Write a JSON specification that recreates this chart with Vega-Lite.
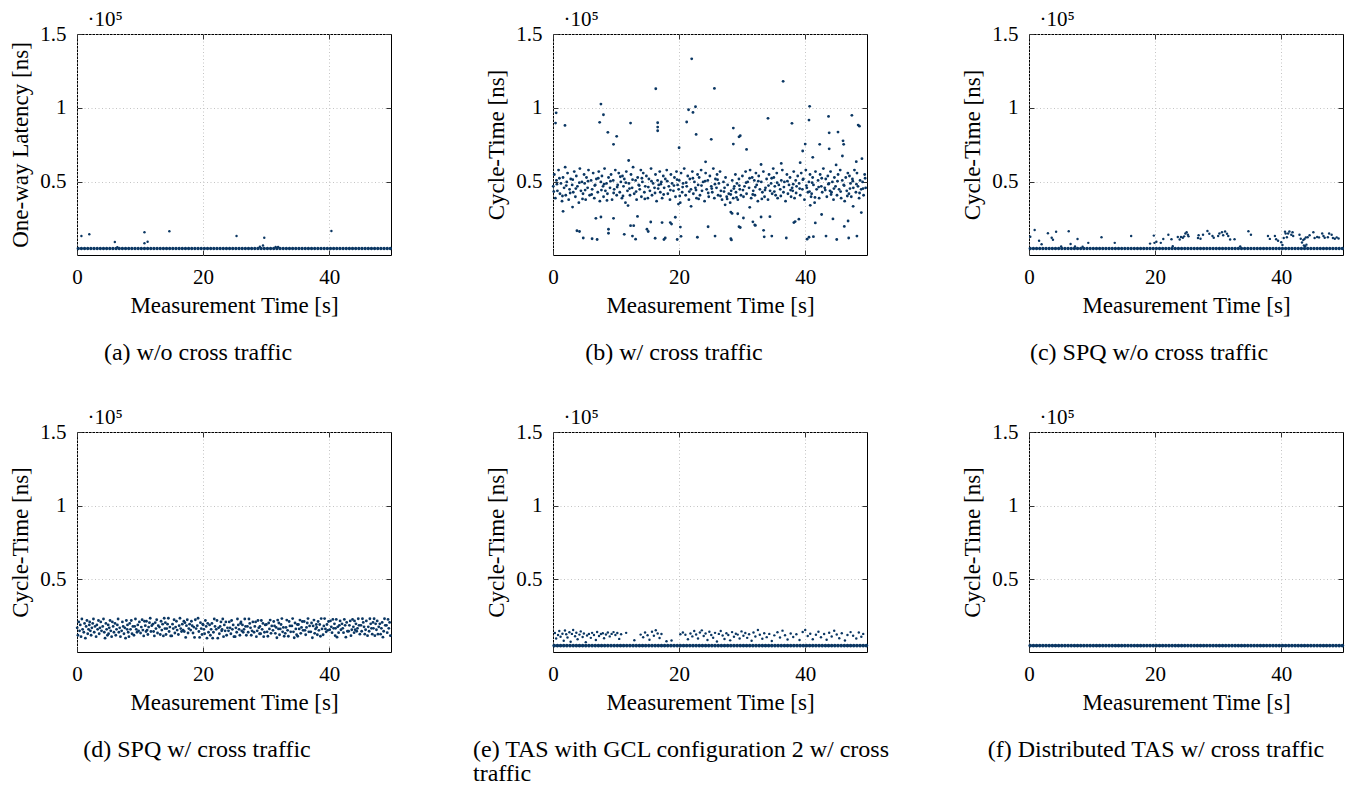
{
"$schema":"https://vega.github.io/schema/vega-lite/v6.json",
"padding":{"left":9,"top":7,"right":0,"bottom":0},
"config":{
"font":"Liberation Serif",
"view":{"stroke":"#000","strokeWidth":1},
"point":{"filled":true,"color":"#0b3763","opacity":1},
"text":{"font":"Liberation Serif","fontSize":21,"color":"#000"},
"axis":{"domain":false,"ticks":true,"tickSize":-5,"tickColor":"#333","tickWidth":1,"labelFont":"Liberation Serif","labelFontSize":21,"labelColor":"#000","labelPadding":16,"labelFlush":false,"labelOverlap":false,"titleFont":"Liberation Serif","titleFontSize":23,"titleFontWeight":"normal","titleColor":"#000","gridColor":"#c4c4c4","gridDash":[1,2.5],"gridWidth":1},
"axisX":{"titlePadding":7},
"axisY":{"titlePadding":7},
"axisTop":{"labels":false,"titleAnchor":"start","titleAlign":"left","titleBaseline":"alphabetic","titleX":10,"titleY":-9,"titleFontSize":21,"titlePadding":0},
"axisRight":{"labels":false},
"title":{"orient":"bottom","anchor":"middle","frame":"group","font":"Liberation Serif","fontSize":24,"fontWeight":"normal","color":"#000","offset":24,"lineHeight":24}
},
"datasets":{
"base":[{"t":0.2,"v":5000},{"t":0.7,"v":5000},{"t":1.2,"v":5000},{"t":1.7,"v":5000},{"t":2.2,"v":5000},{"t":2.7,"v":5000},{"t":3.2,"v":5000},{"t":3.7,"v":5000},{"t":4.2,"v":5000},{"t":4.7,"v":5000},{"t":5.2,"v":5000},{"t":5.7,"v":5000},{"t":6.2,"v":5000},{"t":6.7,"v":5000},{"t":7.2,"v":5000},{"t":7.7,"v":5000},{"t":8.2,"v":5000},{"t":8.7,"v":5000},{"t":9.2,"v":5000},{"t":9.7,"v":5000},{"t":10.2,"v":5000},{"t":10.7,"v":5000},{"t":11.2,"v":5000},{"t":11.7,"v":5000},{"t":12.2,"v":5000},{"t":12.7,"v":5000},{"t":13.2,"v":5000},{"t":13.7,"v":5000},{"t":14.2,"v":5000},{"t":14.7,"v":5000},{"t":15.2,"v":5000},{"t":15.7,"v":5000},{"t":16.2,"v":5000},{"t":16.7,"v":5000},{"t":17.2,"v":5000},{"t":17.7,"v":5000},{"t":18.2,"v":5000},{"t":18.7,"v":5000},{"t":19.2,"v":5000},{"t":19.7,"v":5000},{"t":20.2,"v":5000},{"t":20.7,"v":5000},{"t":21.2,"v":5000},{"t":21.7,"v":5000},{"t":22.2,"v":5000},{"t":22.7,"v":5000},{"t":23.2,"v":5000},{"t":23.7,"v":5000},{"t":24.2,"v":5000},{"t":24.7,"v":5000},{"t":25.2,"v":5000},{"t":25.7,"v":5000},{"t":26.2,"v":5000},{"t":26.7,"v":5000},{"t":27.2,"v":5000},{"t":27.7,"v":5000},{"t":28.2,"v":5000},{"t":28.7,"v":5000},{"t":29.2,"v":5000},{"t":29.7,"v":5000},{"t":30.2,"v":5000},{"t":30.7,"v":5000},{"t":31.2,"v":5000},{"t":31.7,"v":5000},{"t":32.2,"v":5000},{"t":32.7,"v":5000},{"t":33.2,"v":5000},{"t":33.7,"v":5000},{"t":34.2,"v":5000},{"t":34.7,"v":5000},{"t":35.2,"v":5000},{"t":35.7,"v":5000},{"t":36.2,"v":5000},{"t":36.7,"v":5000},{"t":37.2,"v":5000},{"t":37.7,"v":5000},{"t":38.2,"v":5000},{"t":38.7,"v":5000},{"t":39.2,"v":5000},{"t":39.7,"v":5000},{"t":40.2,"v":5000},{"t":40.7,"v":5000},{"t":41.2,"v":5000},{"t":41.7,"v":5000},{"t":42.2,"v":5000},{"t":42.7,"v":5000},{"t":43.2,"v":5000},{"t":43.7,"v":5000},{"t":44.2,"v":5000},{"t":44.7,"v":5000},{"t":45.2,"v":5000},{"t":45.7,"v":5000},{"t":46.2,"v":5000},{"t":46.7,"v":5000},{"t":47.2,"v":5000},{"t":47.7,"v":5000},{"t":48.2,"v":5000},{"t":48.7,"v":5000},{"t":49.2,"v":5000},{"t":49.7,"v":5000}],
"a":[{"t":0.7,"v":13400},{"t":1.95,"v":14600},{"t":6.0,"v":9400},{"t":6.4,"v":5800},{"t":10.7,"v":16000},{"t":10.7,"v":8500},{"t":11.2,"v":9600},{"t":14.65,"v":16600},{"t":25.3,"v":13400},{"t":29.0,"v":6200},{"t":29.5,"v":7000},{"t":29.7,"v":12300},{"t":31.5,"v":6000},{"t":31.9,"v":6000},{"t":40.35,"v":16800}],
"b":[{"t":0.04,"v":47000},{"t":0.21,"v":55000},{"t":0.37,"v":39000},{"t":0.55,"v":51000},{"t":0.70,"v":44000},{"t":0.88,"v":58000},{"t":1.10,"v":42000},{"t":1.26,"v":49000},{"t":1.43,"v":37000},{"t":1.59,"v":53000},{"t":1.76,"v":46000},{"t":1.93,"v":60000},{"t":2.02,"v":41000},{"t":2.18,"v":50000},{"t":2.31,"v":56000},{"t":2.49,"v":38000},{"t":2.63,"v":45000},{"t":2.81,"v":52000},{"t":3.04,"v":48000},{"t":3.21,"v":43000},{"t":3.37,"v":57000},{"t":3.55,"v":40000},{"t":3.70,"v":54000},{"t":3.88,"v":47000},{"t":4.10,"v":36000},{"t":4.26,"v":59000},{"t":4.43,"v":44000},{"t":4.59,"v":50000},{"t":4.76,"v":42000},{"t":4.93,"v":55000},{"t":5.02,"v":49000},{"t":5.18,"v":38000},{"t":5.31,"v":53000},{"t":5.49,"v":46000},{"t":5.63,"v":58000},{"t":5.81,"v":41000},{"t":6.04,"v":51000},{"t":6.21,"v":45000},{"t":6.37,"v":56000},{"t":6.55,"v":39000},{"t":6.70,"v":48000},{"t":6.88,"v":52000},{"t":7.10,"v":43000},{"t":7.26,"v":57000},{"t":7.43,"v":37000},{"t":7.59,"v":50000},{"t":7.76,"v":54000},{"t":7.93,"v":47000},{"t":8.02,"v":40000},{"t":8.18,"v":59000},{"t":8.31,"v":44000},{"t":8.49,"v":49000},{"t":8.63,"v":42000},{"t":8.81,"v":53000},{"t":9.04,"v":46000},{"t":9.21,"v":55000},{"t":9.37,"v":38000},{"t":9.55,"v":51000},{"t":9.70,"v":45000},{"t":9.88,"v":58000},{"t":10.10,"v":41000},{"t":10.26,"v":48000},{"t":10.43,"v":56000},{"t":10.59,"v":43000},{"t":10.76,"v":50000},{"t":10.93,"v":39000},{"t":11.02,"v":54000},{"t":11.18,"v":47000},{"t":11.31,"v":52000},{"t":11.49,"v":36000},{"t":11.63,"v":57000},{"t":11.81,"v":44000},{"t":12.04,"v":49000},{"t":12.21,"v":41000},{"t":12.37,"v":55000},{"t":12.55,"v":46000},{"t":12.70,"v":60000},{"t":12.88,"v":42000},{"t":13.10,"v":51000},{"t":13.26,"v":38000},{"t":13.43,"v":53000},{"t":13.59,"v":48000},{"t":13.76,"v":45000},{"t":13.93,"v":58000},{"t":14.02,"v":40000},{"t":14.18,"v":50000},{"t":14.31,"v":56000},{"t":14.49,"v":43000},{"t":14.63,"v":47000},{"t":14.81,"v":54000},{"t":15.04,"v":39000},{"t":15.21,"v":52000},{"t":15.37,"v":44000},{"t":15.55,"v":59000},{"t":15.70,"v":41000},{"t":15.88,"v":49000},{"t":16.10,"v":46000},{"t":16.26,"v":55000},{"t":16.43,"v":37000},{"t":16.59,"v":51000},{"t":16.76,"v":48000},{"t":16.93,"v":57000},{"t":17.02,"v":43000},{"t":17.18,"v":50000},{"t":17.31,"v":39000},{"t":17.49,"v":54000},{"t":17.63,"v":46000},{"t":17.81,"v":52000},{"t":18.04,"v":58000},{"t":18.21,"v":42000},{"t":18.37,"v":47000},{"t":18.55,"v":38000},{"t":18.70,"v":55000},{"t":18.88,"v":49000},{"t":19.10,"v":44000},{"t":19.26,"v":53000},{"t":19.43,"v":40000},{"t":19.59,"v":57000},{"t":19.76,"v":48000},{"t":19.93,"v":45000},{"t":20.02,"v":51000},{"t":20.18,"v":36000},{"t":20.31,"v":56000},{"t":20.49,"v":43000},{"t":20.63,"v":49000},{"t":20.81,"v":59000},{"t":21.04,"v":41000},{"t":21.21,"v":47000},{"t":21.37,"v":54000},{"t":21.55,"v":38000},{"t":21.70,"v":52000},{"t":21.88,"v":45000},{"t":22.10,"v":57000},{"t":22.26,"v":42000},{"t":22.43,"v":50000},{"t":22.59,"v":46000},{"t":22.76,"v":39000},{"t":22.93,"v":55000},{"t":23.02,"v":48000},{"t":23.18,"v":53000},{"t":23.31,"v":41000},{"t":23.49,"v":58000},{"t":23.63,"v":44000},{"t":23.81,"v":50000},{"t":24.04,"v":37000},{"t":24.21,"v":56000},{"t":24.37,"v":45000},{"t":24.55,"v":51000},{"t":24.70,"v":40000},{"t":24.88,"v":54000},{"t":25.10,"v":47000},{"t":25.26,"v":43000},{"t":25.43,"v":59000},{"t":25.59,"v":39000},{"t":25.76,"v":52000},{"t":25.93,"v":46000},{"t":26.02,"v":55000},{"t":26.18,"v":41000},{"t":26.31,"v":49000},{"t":26.49,"v":57000},{"t":26.63,"v":44000},{"t":26.81,"v":38000},{"t":27.04,"v":50000},{"t":27.21,"v":46000},{"t":27.37,"v":53000},{"t":27.55,"v":40000},{"t":27.70,"v":48000},{"t":27.88,"v":42000},{"t":28.10,"v":36000},{"t":28.26,"v":44000},{"t":28.43,"v":51000},{"t":28.59,"v":39000},{"t":28.76,"v":47000},{"t":28.93,"v":55000},{"t":29.02,"v":43000},{"t":29.18,"v":49000},{"t":29.31,"v":38000},{"t":29.49,"v":52000},{"t":29.63,"v":45000},{"t":29.81,"v":41000},{"t":30.04,"v":54000},{"t":30.21,"v":40000},{"t":30.37,"v":47000},{"t":30.55,"v":57000},{"t":30.70,"v":42000},{"t":30.88,"v":50000},{"t":31.10,"v":46000},{"t":31.26,"v":58000},{"t":31.43,"v":39000},{"t":31.59,"v":53000},{"t":31.76,"v":44000},{"t":31.93,"v":51000},{"t":32.02,"v":41000},{"t":32.18,"v":56000},{"t":32.31,"v":48000},{"t":32.49,"v":37000},{"t":32.63,"v":54000},{"t":32.81,"v":45000},{"t":33.04,"v":50000},{"t":33.21,"v":43000},{"t":33.37,"v":57000},{"t":33.55,"v":40000},{"t":33.70,"v":46000},{"t":33.88,"v":52000},{"t":34.10,"v":38000},{"t":34.26,"v":55000},{"t":34.43,"v":44000},{"t":34.59,"v":49000},{"t":34.76,"v":42000},{"t":34.93,"v":59000},{"t":35.02,"v":53000},{"t":35.18,"v":47000},{"t":35.31,"v":41000},{"t":35.49,"v":56000},{"t":35.63,"v":39000},{"t":35.81,"v":48000},{"t":36.04,"v":45000},{"t":36.21,"v":51000},{"t":36.37,"v":58000},{"t":36.55,"v":43000},{"t":36.70,"v":50000},{"t":36.88,"v":37000},{"t":37.10,"v":55000},{"t":37.26,"v":42000},{"t":37.43,"v":48000},{"t":37.59,"v":53000},{"t":37.76,"v":40000},{"t":37.93,"v":46000},{"t":38.02,"v":44000},{"t":38.18,"v":57000},{"t":38.31,"v":39000},{"t":38.49,"v":51000},{"t":38.63,"v":47000},{"t":38.81,"v":54000},{"t":39.04,"v":49000},{"t":39.21,"v":41000},{"t":39.37,"v":56000},{"t":39.55,"v":45000},{"t":39.70,"v":52000},{"t":39.88,"v":38000},{"t":40.10,"v":58000},{"t":40.26,"v":46000},{"t":40.43,"v":43000},{"t":40.59,"v":50000},{"t":40.76,"v":55000},{"t":40.93,"v":40000},{"t":41.02,"v":42000},{"t":41.18,"v":53000},{"t":41.31,"v":48000},{"t":41.49,"v":36000},{"t":41.63,"v":57000},{"t":41.81,"v":45000},{"t":42.04,"v":51000},{"t":42.21,"v":39000},{"t":42.37,"v":55000},{"t":42.55,"v":47000},{"t":42.70,"v":43000},{"t":42.88,"v":59000},{"t":43.10,"v":46000},{"t":43.26,"v":52000},{"t":43.43,"v":40000},{"t":43.59,"v":54000},{"t":43.76,"v":49000},{"t":43.93,"v":44000},{"t":44.02,"v":57000},{"t":44.18,"v":43000},{"t":44.31,"v":50000},{"t":44.49,"v":38000},{"t":44.63,"v":53000},{"t":44.81,"v":47000},{"t":45.04,"v":41000},{"t":45.21,"v":55000},{"t":45.37,"v":45000},{"t":45.55,"v":58000},{"t":45.70,"v":39000},{"t":45.88,"v":51000},{"t":46.10,"v":48000},{"t":46.26,"v":37000},{"t":46.43,"v":53000},{"t":46.59,"v":44000},{"t":46.76,"v":56000},{"t":46.93,"v":42000},{"t":47.02,"v":54000},{"t":47.18,"v":49000},{"t":47.31,"v":40000},{"t":47.49,"v":52000},{"t":47.63,"v":46000},{"t":47.81,"v":58000},{"t":48.04,"v":43000},{"t":48.21,"v":56000},{"t":48.37,"v":47000},{"t":48.55,"v":39000},{"t":48.70,"v":51000},{"t":48.88,"v":45000},{"t":49.10,"v":50000},{"t":49.26,"v":41000},{"t":49.43,"v":55000},{"t":49.59,"v":46000},
{"t":0.5,"v":96700},{"t":0.4,"v":89800},{"t":1.9,"v":88200},{"t":7.6,"v":102600},{"t":7.4,"v":90300},{"t":8.0,"v":95400},{"t":8.7,"v":83500},{"t":10.1,"v":80800},{"t":9.6,"v":75400},{"t":12.3,"v":89800},{"t":16.3,"v":113000},{"t":16.6,"v":90000},{"t":16.6,"v":87100},{"t":16.6,"v":84600},{"t":20.0,"v":73100},{"t":21.2,"v":90500},{"t":21.5,"v":98800},{"t":22.0,"v":133200},{"t":22.2,"v":97000},{"t":22.6,"v":100800},{"t":22.7,"v":82100},{"t":24.2,"v":63600},{"t":25.1,"v":78800},{"t":25.6,"v":113200},{"t":28.6,"v":86400},{"t":28.6,"v":75600},{"t":29.5,"v":80500},{"t":29.7,"v":81200},{"t":30.7,"v":72000},{"t":34.1,"v":93000},{"t":36.5,"v":118000},{"t":37.9,"v":89600},{"t":39.6,"v":70900},{"t":40.0,"v":75600},{"t":40.6,"v":91800},{"t":40.7,"v":101100},{"t":41.2,"v":66600},{"t":42.3,"v":75400},{"t":43.7,"v":94300},{"t":43.8,"v":83200},{"t":43.8,"v":72400},{"t":45.2,"v":83700},{"t":46.0,"v":77800},{"t":46.1,"v":75400},{"t":45.9,"v":67500},{"t":47.4,"v":95000},{"t":48.4,"v":88400},{"t":48.6,"v":87700},{"t":49.0,"v":65700},{"t":48.1,"v":63700},{"t":36.2,"v":62500},{"t":12.0,"v":64500},{"t":39.2,"v":63000},{"t":44.9,"v":61500},{"t":33.0,"v":61800},
{"t":1.6,"v":30100},{"t":3.8,"v":17000},{"t":4.2,"v":16500},{"t":4.8,"v":12100},{"t":6.2,"v":11600},{"t":7.0,"v":11100},{"t":6.8,"v":25400},{"t":7.6,"v":26300},{"t":8.8,"v":18000},{"t":8.8,"v":15300},{"t":9.6,"v":25400},{"t":11.3,"v":14600},{"t":12.3,"v":20400},{"t":12.8,"v":20400},{"t":12.6,"v":13400},{"t":13.1,"v":11300},{"t":13.4,"v":26700},{"t":14.9,"v":18000},{"t":15.1,"v":16500},{"t":15.5,"v":22900},{"t":16.2,"v":11900},{"t":17.3,"v":22500},{"t":17.6,"v":11100},{"t":17.8,"v":12100},{"t":18.6,"v":22500},{"t":18.8,"v":21500},{"t":19.4,"v":26100},{"t":19.7,"v":11100},{"t":20.2,"v":19500},{"t":20.3,"v":13200},{"t":22.9,"v":12600},{"t":24.6,"v":19700},{"t":25.7,"v":13400},{"t":28.2,"v":29600},{"t":28.4,"v":28700},{"t":28.2,"v":11600},{"t":28.3,"v":10800},{"t":29.3,"v":28500},{"t":29.5,"v":19700},{"t":29.7,"v":19200},{"t":30.2,"v":25600},{"t":31.7,"v":23000},{"t":32.0,"v":20900},{"t":32.1,"v":20600},{"t":33.0,"v":26300},{"t":33.4,"v":17300},{"t":33.5,"v":12900},{"t":34.4,"v":26500},{"t":34.7,"v":13400},{"t":37.0,"v":12100},{"t":38.2,"v":22500},{"t":38.4,"v":23200},{"t":39.0,"v":24800},{"t":40.3,"v":11300},{"t":40.6,"v":12600},{"t":41.3,"v":13000},{"t":41.6,"v":22300},{"t":42.6,"v":28000},{"t":43.3,"v":13400},{"t":44.4,"v":25000},{"t":45.0,"v":11100},{"t":46.2,"v":19900},{"t":46.8,"v":23600},{"t":46.9,"v":12100},{"t":48.2,"v":13400},{"t":48.9,"v":29300},{"t":3.1,"v":33000},{"t":11.9,"v":34000},{"t":21.9,"v":33500},{"t":27.3,"v":34500},{"t":31.2,"v":32800},{"t":40.8,"v":34200},{"t":47.6,"v":33500},{"t":19.9,"v":35000},
{"t":0.13,"v":43500},{"t":0.62,"v":48500},{"t":1.02,"v":52500},{"t":1.50,"v":40500},{"t":2.10,"v":47500},{"t":2.72,"v":42500},{"t":3.13,"v":51500},{"t":3.62,"v":45500},{"t":4.18,"v":49500},{"t":4.68,"v":38500},{"t":5.10,"v":44500},{"t":5.55,"v":50500},{"t":6.13,"v":41500},{"t":6.62,"v":47500},{"t":7.18,"v":52500},{"t":7.68,"v":44500},{"t":8.10,"v":48500},{"t":8.56,"v":37500},{"t":9.12,"v":50500},{"t":9.62,"v":42500},{"t":10.18,"v":46500},{"t":10.68,"v":53500},{"t":11.10,"v":40500},{"t":11.55,"v":49500},{"t":12.13,"v":45500},{"t":12.62,"v":51500},{"t":13.18,"v":43500},{"t":13.68,"v":47500},{"t":14.10,"v":52500},{"t":14.56,"v":38500},{"t":15.12,"v":46500},{"t":15.62,"v":50500},{"t":16.18,"v":42500},{"t":16.68,"v":45500},{"t":17.10,"v":48500},{"t":17.55,"v":41500},{"t":18.13,"v":50500},{"t":18.62,"v":44500},{"t":19.18,"v":47500},{"t":19.68,"v":51500},{"t":20.10,"v":40500},{"t":20.56,"v":46500},{"t":21.12,"v":49500},{"t":21.62,"v":43500},{"t":22.18,"v":52500},{"t":22.68,"v":44500},{"t":23.10,"v":38500},{"t":23.55,"v":47500},{"t":24.13,"v":50500},{"t":24.62,"v":42500},{"t":25.18,"v":45500},{"t":25.68,"v":48500},{"t":26.10,"v":51500},{"t":26.56,"v":40500},{"t":27.12,"v":43500},{"t":27.62,"v":38500},{"t":28.18,"v":41500},{"t":28.68,"v":45500},{"t":29.10,"v":39500},{"t":29.55,"v":47500},{"t":30.13,"v":44500},{"t":30.62,"v":49500},{"t":31.18,"v":52500},{"t":31.68,"v":41500},{"t":32.10,"v":46500},{"t":32.56,"v":50500},{"t":33.12,"v":38500},{"t":33.62,"v":44500},{"t":34.18,"v":47500},{"t":34.68,"v":52500},{"t":35.10,"v":43500},{"t":35.55,"v":49500},{"t":36.13,"v":40500},{"t":36.62,"v":46500},{"t":37.18,"v":50500},{"t":37.68,"v":44500},{"t":38.10,"v":48500},{"t":38.56,"v":42500},{"t":39.12,"v":45500},{"t":39.62,"v":51500},{"t":40.18,"v":47500},{"t":40.68,"v":43500},{"t":41.10,"v":49500},{"t":41.55,"v":39500},{"t":42.13,"v":46500},{"t":42.62,"v":52500},{"t":43.18,"v":44500},{"t":43.68,"v":48500},{"t":44.10,"v":41500},{"t":44.56,"v":45500},{"t":45.12,"v":50500},{"t":45.62,"v":43500},{"t":46.18,"v":47500},{"t":46.68,"v":40500},{"t":47.10,"v":45500},{"t":47.55,"v":50500},{"t":48.13,"v":48500},{"t":48.62,"v":42500},{"t":49.18,"v":45500},{"t":49.50,"v":52500}],
"c":[{"t":0.2,"v":13000},{"t":0.9,"v":17500},{"t":1.6,"v":10300},{"t":2.0,"v":7800},{"t":3.0,"v":15300},{"t":3.6,"v":12300},{"t":3.8,"v":10900},{"t":4.3,"v":16300},{"t":6.3,"v":16600},{"t":6.6,"v":8100},{"t":7.7,"v":11400},{"t":9.4,"v":8800},{"t":11.5,"v":12600},{"t":13.6,"v":8800},{"t":16.2,"v":13400},{"t":19.2,"v":8300},{"t":19.8,"v":13700},{"t":19.9,"v":8800},{"t":20.2,"v":9500},{"t":20.9,"v":8800},{"t":21.3,"v":11400},{"t":22.1,"v":14300},{"t":22.6,"v":11200},{"t":23.6,"v":12800},{"t":23.9,"v":11100},{"t":24.1,"v":12800},{"t":24.4,"v":12300},{"t":24.6,"v":13200},{"t":24.8,"v":15100},{"t":25.0,"v":16000},{"t":25.2,"v":14300},{"t":25.3,"v":13200},{"t":26.8,"v":12100},{"t":26.9,"v":13900},{"t":27.2,"v":11600},{"t":27.6,"v":14300},{"t":28.3,"v":16800},{"t":28.6,"v":15000},{"t":29.1,"v":13500},{"t":29.3,"v":12300},{"t":30.0,"v":13400},{"t":30.2,"v":15100},{"t":30.6,"v":16000},{"t":30.8,"v":13900},{"t":31.1,"v":16500},{"t":31.4,"v":15000},{"t":31.6,"v":13400},{"t":31.9,"v":11100},{"t":32.6,"v":11300},{"t":34.8,"v":16700},{"t":35.2,"v":14300},{"t":37.9,"v":13400},{"t":38.2,"v":11500},{"t":39.0,"v":13400},{"t":39.2,"v":11300},{"t":39.5,"v":10200},{"t":40.0,"v":9200},{"t":40.2,"v":7400},{"t":40.4,"v":12100},{"t":40.6,"v":16400},{"t":40.7,"v":15100},{"t":40.9,"v":12600},{"t":41.1,"v":15100},{"t":41.3,"v":16500},{"t":41.6,"v":14300},{"t":41.8,"v":16000},{"t":41.9,"v":13400},{"t":42.9,"v":14300},{"t":43.1,"v":11600},{"t":43.3,"v":9100},{"t":43.5,"v":10800},{"t":43.7,"v":11400},{"t":43.9,"v":12500},{"t":44.2,"v":12600},{"t":44.5,"v":13900},{"t":43.6,"v":7000},{"t":43.8,"v":6500},{"t":44.0,"v":7600},{"t":45.1,"v":16000},{"t":45.3,"v":12100},{"t":45.7,"v":12800},{"t":46.0,"v":12500},{"t":46.5,"v":15100},{"t":46.7,"v":13400},{"t":46.9,"v":12300},{"t":47.4,"v":12600},{"t":47.6,"v":15100},{"t":48.0,"v":14300},{"t":48.2,"v":12100},{"t":48.5,"v":11600},{"t":48.8,"v":12500},{"t":49.1,"v":11800},{"t":7.3,"v":6400},{"t":8.5,"v":6200},{"t":5.1,"v":6300},{"t":22.8,"v":6500},{"t":33.5,"v":6300}],
"d":[{"t":0.03,"v":17000},{"t":0.15,"v":12000},{"t":0.27,"v":21000},{"t":0.40,"v":15000},{"t":0.52,"v":19000},{"t":0.64,"v":11000},{"t":0.77,"v":23000},{"t":0.89,"v":16000},{"t":1.08,"v":14000},{"t":1.20,"v":20000},{"t":1.33,"v":10000},{"t":1.45,"v":18000},{"t":1.58,"v":22000},{"t":1.70,"v":13000},{"t":1.83,"v":16000},{"t":1.95,"v":19000},{"t":2.01,"v":21000},{"t":2.12,"v":15000},{"t":2.24,"v":12000},{"t":2.36,"v":17000},{"t":2.49,"v":20000},{"t":2.61,"v":23000},{"t":2.73,"v":14000},{"t":2.86,"v":18000},{"t":3.03,"v":11000},{"t":3.15,"v":19000},{"t":3.27,"v":16000},{"t":3.40,"v":22000},{"t":3.52,"v":13000},{"t":3.64,"v":17000},{"t":3.77,"v":21000},{"t":3.89,"v":15000},{"t":4.08,"v":18000},{"t":4.20,"v":23000},{"t":4.33,"v":14000},{"t":4.45,"v":10000},{"t":4.58,"v":20000},{"t":4.70,"v":16000},{"t":4.83,"v":12000},{"t":4.95,"v":19000},{"t":5.01,"v":13000},{"t":5.12,"v":17000},{"t":5.24,"v":22000},{"t":5.36,"v":15000},{"t":5.49,"v":11000},{"t":5.61,"v":21000},{"t":5.73,"v":18000},{"t":5.86,"v":14000},{"t":6.03,"v":20000},{"t":6.15,"v":12000},{"t":6.27,"v":16000},{"t":6.40,"v":19000},{"t":6.52,"v":23000},{"t":6.64,"v":14000},{"t":6.77,"v":17000},{"t":6.89,"v":11000},{"t":7.08,"v":15000},{"t":7.20,"v":21000},{"t":7.33,"v":18000},{"t":7.45,"v":13000},{"t":7.58,"v":17000},{"t":7.70,"v":10000},{"t":7.83,"v":22000},{"t":7.95,"v":16000},{"t":8.01,"v":19000},{"t":8.12,"v":14000},{"t":8.24,"v":11000},{"t":8.36,"v":20000},{"t":8.49,"v":16000},{"t":8.61,"v":22000},{"t":8.73,"v":13000},{"t":8.86,"v":18000},{"t":9.03,"v":12000},{"t":9.15,"v":18000},{"t":9.27,"v":23000},{"t":9.40,"v":16000},{"t":9.52,"v":14000},{"t":9.64,"v":19000},{"t":9.77,"v":15000},{"t":9.89,"v":21000},
{"t":10.08,"v":13500},{"t":10.20,"v":17500},{"t":10.33,"v":22500},{"t":10.45,"v":15500},{"t":10.58,"v":11500},{"t":10.70,"v":21500},{"t":10.83,"v":18500},{"t":10.95,"v":14500},{"t":11.01,"v":21500},{"t":11.12,"v":15500},{"t":11.24,"v":12500},{"t":11.36,"v":17500},{"t":11.49,"v":20500},{"t":11.61,"v":23500},{"t":11.73,"v":14500},{"t":11.86,"v":18500},{"t":12.03,"v":19500},{"t":12.15,"v":14500},{"t":12.27,"v":11500},{"t":12.40,"v":20500},{"t":12.52,"v":16500},{"t":12.64,"v":22500},{"t":12.77,"v":13500},{"t":12.89,"v":18500},{"t":13.08,"v":17500},{"t":13.20,"v":12500},{"t":13.33,"v":21500},{"t":13.45,"v":15500},{"t":13.58,"v":19500},{"t":13.70,"v":11500},{"t":13.83,"v":23500},{"t":13.95,"v":16500},{"t":14.01,"v":20500},{"t":14.12,"v":12500},{"t":14.24,"v":16500},{"t":14.36,"v":19500},{"t":14.49,"v":23500},{"t":14.61,"v":14500},{"t":14.73,"v":17500},{"t":14.86,"v":11500},{"t":15.03,"v":11500},{"t":15.15,"v":19500},{"t":15.27,"v":16500},{"t":15.40,"v":22500},{"t":15.52,"v":13500},{"t":15.64,"v":17500},{"t":15.77,"v":21500},{"t":15.89,"v":15500},{"t":16.08,"v":12500},{"t":16.20,"v":18500},{"t":16.33,"v":23500},{"t":16.45,"v":16500},{"t":16.58,"v":14500},{"t":16.70,"v":19500},{"t":16.83,"v":15500},{"t":16.95,"v":21500},{"t":17.01,"v":14500},{"t":17.12,"v":20500},{"t":17.24,"v":10500},{"t":17.36,"v":18500},{"t":17.49,"v":22500},{"t":17.61,"v":13500},{"t":17.73,"v":16500},{"t":17.86,"v":19500},{"t":18.03,"v":15500},{"t":18.15,"v":21500},{"t":18.27,"v":18500},{"t":18.40,"v":13500},{"t":18.52,"v":17500},{"t":18.64,"v":10500},{"t":18.77,"v":22500},{"t":18.89,"v":16500},{"t":19.08,"v":18500},{"t":19.20,"v":23500},{"t":19.33,"v":14500},{"t":19.45,"v":10500},{"t":19.58,"v":20500},{"t":19.70,"v":16500},{"t":19.83,"v":12500},{"t":19.95,"v":19500},
{"t":20.01,"v":19000},{"t":20.12,"v":16000},{"t":20.24,"v":13000},{"t":20.36,"v":22000},{"t":20.49,"v":18000},{"t":20.61,"v":10000},{"t":20.73,"v":20000},{"t":20.86,"v":14000},{"t":21.03,"v":19000},{"t":21.15,"v":12000},{"t":21.27,"v":16000},{"t":21.40,"v":20000},{"t":21.52,"v":10000},{"t":21.64,"v":14000},{"t":21.77,"v":23000},{"t":21.89,"v":18000},{"t":22.08,"v":16000},{"t":22.20,"v":22000},{"t":22.33,"v":10000},{"t":22.45,"v":17000},{"t":22.58,"v":13000},{"t":22.70,"v":18000},{"t":22.83,"v":21000},{"t":22.95,"v":15000},{"t":23.01,"v":16000},{"t":23.12,"v":23000},{"t":23.24,"v":11000},{"t":23.36,"v":19000},{"t":23.49,"v":15000},{"t":23.61,"v":21000},{"t":23.73,"v":12000},{"t":23.86,"v":17000},{"t":24.03,"v":15000},{"t":24.15,"v":21000},{"t":24.27,"v":17000},{"t":24.40,"v":13000},{"t":24.52,"v":22000},{"t":24.64,"v":16000},{"t":24.77,"v":19000},{"t":24.89,"v":11000},{"t":25.08,"v":11000},{"t":25.20,"v":17000},{"t":25.33,"v":14000},{"t":25.45,"v":23000},{"t":25.58,"v":19000},{"t":25.70,"v":16000},{"t":25.83,"v":12000},{"t":25.95,"v":20000},{"t":26.01,"v":21000},{"t":26.12,"v":15000},{"t":26.24,"v":19000},{"t":26.36,"v":14000},{"t":26.49,"v":16000},{"t":26.61,"v":23000},{"t":26.73,"v":18000},{"t":26.86,"v":12000},{"t":27.03,"v":18000},{"t":27.15,"v":14000},{"t":27.27,"v":23000},{"t":27.40,"v":20000},{"t":27.52,"v":17000},{"t":27.64,"v":12000},{"t":27.77,"v":15000},{"t":27.89,"v":21000},{"t":28.08,"v":14000},{"t":28.20,"v":18000},{"t":28.33,"v":21000},{"t":28.45,"v":11000},{"t":28.58,"v":15000},{"t":28.70,"v":22000},{"t":28.83,"v":17000},{"t":28.95,"v":13000},{"t":29.01,"v":18000},{"t":29.12,"v":13000},{"t":29.24,"v":22000},{"t":29.36,"v":16000},{"t":29.49,"v":20000},{"t":29.61,"v":11000},{"t":29.73,"v":14000},{"t":29.86,"v":19000},
{"t":30.03,"v":19300},{"t":30.15,"v":14300},{"t":30.27,"v":11300},{"t":30.40,"v":20300},{"t":30.52,"v":16300},{"t":30.64,"v":22300},{"t":30.77,"v":13300},{"t":30.89,"v":18300},{"t":31.08,"v":15300},{"t":31.20,"v":21300},{"t":31.33,"v":18300},{"t":31.45,"v":13300},{"t":31.58,"v":17300},{"t":31.70,"v":10300},{"t":31.83,"v":22300},{"t":31.95,"v":16300},{"t":32.01,"v":20300},{"t":32.12,"v":12300},{"t":32.24,"v":16300},{"t":32.36,"v":19300},{"t":32.49,"v":23300},{"t":32.61,"v":14300},{"t":32.73,"v":17300},{"t":32.86,"v":11300},{"t":33.03,"v":13300},{"t":33.15,"v":17300},{"t":33.27,"v":22300},{"t":33.40,"v":15300},{"t":33.52,"v":11300},{"t":33.64,"v":21300},{"t":33.77,"v":18300},{"t":33.89,"v":14300},{"t":34.08,"v":18300},{"t":34.20,"v":23300},{"t":34.33,"v":14300},{"t":34.45,"v":10300},{"t":34.58,"v":20300},{"t":34.70,"v":16300},{"t":34.83,"v":12300},{"t":34.95,"v":19300},{"t":35.01,"v":11300},{"t":35.12,"v":19300},{"t":35.24,"v":16300},{"t":35.36,"v":22300},{"t":35.49,"v":13300},{"t":35.61,"v":17300},{"t":35.73,"v":21300},{"t":35.86,"v":15300},{"t":36.03,"v":21300},{"t":36.15,"v":15300},{"t":36.27,"v":12300},{"t":36.40,"v":17300},{"t":36.52,"v":20300},{"t":36.64,"v":23300},{"t":36.77,"v":14300},{"t":36.89,"v":18300},{"t":37.08,"v":14300},{"t":37.20,"v":20300},{"t":37.33,"v":10300},{"t":37.45,"v":18300},{"t":37.58,"v":22300},{"t":37.70,"v":13300},{"t":37.83,"v":16300},{"t":37.95,"v":19300},{"t":38.01,"v":17300},{"t":38.12,"v":12300},{"t":38.24,"v":21300},{"t":38.36,"v":15300},{"t":38.49,"v":19300},{"t":38.61,"v":11300},{"t":38.73,"v":23300},{"t":38.86,"v":16300},{"t":39.03,"v":12300},{"t":39.15,"v":18300},{"t":39.27,"v":23300},{"t":39.40,"v":16300},{"t":39.52,"v":14300},{"t":39.64,"v":19300},{"t":39.77,"v":15300},{"t":39.89,"v":21300},
{"t":40.08,"v":15700},{"t":40.20,"v":21700},{"t":40.33,"v":17700},{"t":40.45,"v":13700},{"t":40.58,"v":22700},{"t":40.70,"v":16700},{"t":40.83,"v":19700},{"t":40.95,"v":11700},{"t":41.01,"v":16700},{"t":41.12,"v":22700},{"t":41.24,"v":10700},{"t":41.36,"v":17700},{"t":41.49,"v":13700},{"t":41.61,"v":18700},{"t":41.73,"v":21700},{"t":41.86,"v":15700},{"t":42.03,"v":19700},{"t":42.15,"v":16700},{"t":42.27,"v":13700},{"t":42.40,"v":22700},{"t":42.52,"v":18700},{"t":42.64,"v":10700},{"t":42.77,"v":20700},{"t":42.89,"v":14700},{"t":43.08,"v":14700},{"t":43.20,"v":18700},{"t":43.33,"v":21700},{"t":43.45,"v":11700},{"t":43.58,"v":15700},{"t":43.70,"v":22700},{"t":43.83,"v":17700},{"t":43.95,"v":13700},{"t":44.01,"v":21700},{"t":44.12,"v":15700},{"t":44.24,"v":19700},{"t":44.36,"v":14700},{"t":44.49,"v":16700},{"t":44.61,"v":23200},{"t":44.73,"v":18700},{"t":44.86,"v":12700},{"t":45.03,"v":18700},{"t":45.15,"v":14700},{"t":45.27,"v":23200},{"t":45.40,"v":20700},{"t":45.52,"v":17700},{"t":45.64,"v":12700},{"t":45.77,"v":15700},{"t":45.89,"v":21700},{"t":46.08,"v":11700},{"t":46.20,"v":17700},{"t":46.33,"v":14700},{"t":46.45,"v":23200},{"t":46.58,"v":19700},{"t":46.70,"v":16700},{"t":46.83,"v":12700},{"t":46.95,"v":20700},{"t":47.01,"v":16700},{"t":47.12,"v":23200},{"t":47.24,"v":11700},{"t":47.36,"v":19700},{"t":47.49,"v":15700},{"t":47.61,"v":21700},{"t":47.73,"v":12700},{"t":47.86,"v":17700},{"t":48.03,"v":19700},{"t":48.15,"v":12700},{"t":48.27,"v":16700},{"t":48.40,"v":20700},{"t":48.52,"v":10700},{"t":48.64,"v":14700},{"t":48.77,"v":23200},{"t":48.89,"v":18700},{"t":49.08,"v":18700},{"t":49.20,"v":13700},{"t":49.33,"v":22700},{"t":49.45,"v":16700},{"t":49.58,"v":20700},{"t":49.70,"v":11700}],
"e":[{"t":0.3,"v":13500},{"t":0.5,"v":9800},{"t":0.8,"v":12200},{"t":1.0,"v":14800},{"t":1.2,"v":11000},{"t":1.5,"v":13000},{"t":1.7,"v":8200},{"t":1.9,"v":15200},{"t":2.1,"v":12600},{"t":2.3,"v":10400},{"t":2.6,"v":14000},{"t":2.8,"v":7600},{"t":3.0,"v":12900},{"t":3.2,"v":15500},{"t":3.5,"v":11300},{"t":3.7,"v":13700},{"t":3.9,"v":9200},{"t":4.2,"v":12400},{"t":4.4,"v":14600},{"t":4.7,"v":10800},{"t":4.9,"v":13200},{"t":5.2,"v":7300},{"t":5.4,"v":11800},{"t":5.7,"v":12900},{"t":6.0,"v":10200},{"t":6.2,"v":13600},{"t":6.5,"v":12100},{"t":6.8,"v":8700},{"t":7.0,"v":14200},{"t":7.3,"v":11500},{"t":7.6,"v":12800},{"t":7.9,"v":13300},{"t":8.1,"v":9900},{"t":8.4,"v":12500},{"t":8.7,"v":13800},{"t":9.0,"v":11200},{"t":9.3,"v":12900},{"t":9.6,"v":14100},{"t":9.9,"v":12200},{"t":10.2,"v":13500},{"t":10.5,"v":9500},{"t":10.8,"v":12700},{"t":11.6,"v":13600},{"t":12.9,"v":8600},{"t":13.9,"v":12400},{"t":14.3,"v":10600},{"t":14.6,"v":13900},{"t":15.0,"v":12000},{"t":15.3,"v":8900},{"t":15.7,"v":14300},{"t":16.0,"v":11700},{"t":16.3,"v":15400},{"t":16.6,"v":13100},{"t":16.9,"v":10100},{"t":17.2,"v":12800},{"t":18.0,"v":7900},{"t":18.8,"v":8400},{"t":20.2,"v":12600},{"t":20.6,"v":13800},{"t":21.0,"v":12300},{"t":21.4,"v":9300},{"t":21.8,"v":13100},{"t":22.1,"v":11200},{"t":22.4,"v":14800},{"t":22.7,"v":12500},{"t":23.0,"v":9700},{"t":23.3,"v":13900},{"t":23.6,"v":15300},{"t":23.9,"v":11400},{"t":24.2,"v":13200},{"t":24.5,"v":8800},{"t":24.8,"v":14400},{"t":25.1,"v":12100},{"t":25.4,"v":10300},{"t":25.7,"v":13600},{"t":26.0,"v":7700},{"t":26.3,"v":12900},{"t":26.6,"v":14900},{"t":26.9,"v":11800},{"t":27.2,"v":9400},{"t":27.5,"v":13300},{"t":27.8,"v":12200},{"t":28.1,"v":8500},{"t":28.4,"v":14100},{"t":28.7,"v":10900},{"t":29.0,"v":13000},{"t":29.3,"v":12400},{"t":29.6,"v":9800},{"t":29.9,"v":14600},{"t":30.2,"v":11600},{"t":30.5,"v":13500},{"t":30.8,"v":10200},{"t":31.1,"v":12700},{"t":31.5,"v":8300},{"t":31.8,"v":13800},{"t":32.1,"v":11100},{"t":32.5,"v":15600},{"t":32.8,"v":12300},{"t":33.2,"v":9600},{"t":33.5,"v":13400},{"t":33.9,"v":10700},{"t":34.3,"v":12900},{"t":34.7,"v":8100},{"t":35.1,"v":11900},{"t":35.6,"v":14000},{"t":36.0,"v":10500},{"t":36.4,"v":15100},{"t":36.8,"v":12000},{"t":37.2,"v":9100},{"t":37.7,"v":13100},{"t":38.1,"v":10800},{"t":38.6,"v":12600},{"t":39.1,"v":8700},{"t":39.6,"v":14200},{"t":40.0,"v":15500},{"t":40.4,"v":11400},{"t":40.8,"v":13000},{"t":41.2,"v":9300},{"t":41.7,"v":12300},{"t":42.1,"v":14400},{"t":42.5,"v":10600},{"t":43.0,"v":12800},{"t":43.4,"v":8900},{"t":43.8,"v":13700},{"t":44.2,"v":11100},{"t":44.6,"v":15000},{"t":45.0,"v":12500},{"t":45.4,"v":10000},{"t":45.8,"v":13300},{"t":46.3,"v":8400},{"t":46.7,"v":12100},{"t":47.2,"v":14100},{"t":47.6,"v":11700},{"t":48.1,"v":9700},{"t":48.5,"v":13900},{"t":48.9,"v":11000},{"t":49.2,"v":12900}]
},
"columns":3,
"spacing":{"row":177,"column":162},
"bounds":"flush",
"concat":[
{"width":314,"height":221,"title":{"text":"(a) w/o cross traffic","dx":-36},
"encoding":{"x":{"field":"t","type":"quantitative","scale":{"domain":[0,49.8],"nice":false},"axis":null},"y":{"field":"v","type":"quantitative","scale":{"domain":[600,150000],"nice":false},"axis":null}},
"layer":[
{"data":{"name":"base"},"mark":{"type":"point","size":12}},
{"data":{"name":"a"},"mark":{"type":"point","size":6}},
{"data":{"values":[{"k":1}]},"mark":{"type":"text"},"encoding":{"text":{"value":""},"x":{"datum":0,"type":"quantitative","scale":{"domain":[0,49.8],"nice":false},"axis":{"grid":true,"values":[0,20,40],"title":"Measurement Time [s]"}},"y":{"datum":150000,"type":"quantitative","scale":{"domain":[600,150000],"nice":false},"axis":{"grid":true,"values":[50000,100000,150000],"labelExpr":"'' + datum.value/100000","title":"One-way Latency [ns]"}}}},
{"data":{"values":[{"k":1}]},"mark":{"type":"text"},"encoding":{"text":{"value":""},"x":{"datum":0,"type":"quantitative","scale":{"domain":[0,49.8],"nice":false},"axis":{"orient":"top","values":[0,20,40],"title":"·10⁵"}},"y":{"datum":150000,"type":"quantitative","scale":{"domain":[600,150000],"nice":false},"axis":{"orient":"right","values":[50000,100000,150000],"title":null}}}}
],
"resolve":{"axis":{"x":"independent","y":"independent"}}},
{"width":314,"height":221,"title":{"text":"(b) w/ cross traffic","dx":-36},
"encoding":{"x":{"field":"t","type":"quantitative","scale":{"domain":[0,49.8],"nice":false},"axis":null},"y":{"field":"v","type":"quantitative","scale":{"domain":[600,150000],"nice":false},"axis":null}},
"layer":[
{"data":{"name":"b"},"mark":{"type":"point","size":8}},
{"data":{"values":[{"k":1}]},"mark":{"type":"text"},"encoding":{"text":{"value":""},"x":{"datum":0,"type":"quantitative","scale":{"domain":[0,49.8],"nice":false},"axis":{"grid":true,"values":[0,20,40],"title":"Measurement Time [s]"}},"y":{"datum":150000,"type":"quantitative","scale":{"domain":[600,150000],"nice":false},"axis":{"grid":true,"values":[50000,100000,150000],"labelExpr":"'' + datum.value/100000","title":"Cycle-Time [ns]"}}}},
{"data":{"values":[{"k":1}]},"mark":{"type":"text"},"encoding":{"text":{"value":""},"x":{"datum":0,"type":"quantitative","scale":{"domain":[0,49.8],"nice":false},"axis":{"orient":"top","values":[0,20,40],"title":"·10⁵"}},"y":{"datum":150000,"type":"quantitative","scale":{"domain":[600,150000],"nice":false},"axis":{"orient":"right","values":[50000,100000,150000],"title":null}}}}
],
"resolve":{"axis":{"x":"independent","y":"independent"}}},
{"width":314,"height":221,"title":{"text":"(c) SPQ w/o cross traffic","dx":-37},
"encoding":{"x":{"field":"t","type":"quantitative","scale":{"domain":[0,49.8],"nice":false},"axis":null},"y":{"field":"v","type":"quantitative","scale":{"domain":[600,150000],"nice":false},"axis":null}},
"layer":[
{"data":{"name":"base"},"mark":{"type":"point","size":12}},
{"data":{"name":"c"},"mark":{"type":"point","size":6}},
{"data":{"values":[{"k":1}]},"mark":{"type":"text"},"encoding":{"text":{"value":""},"x":{"datum":0,"type":"quantitative","scale":{"domain":[0,49.8],"nice":false},"axis":{"grid":true,"values":[0,20,40],"title":"Measurement Time [s]"}},"y":{"datum":150000,"type":"quantitative","scale":{"domain":[600,150000],"nice":false},"axis":{"grid":true,"values":[50000,100000,150000],"labelExpr":"'' + datum.value/100000","title":"Cycle-Time [ns]"}}}},
{"data":{"values":[{"k":1}]},"mark":{"type":"text"},"encoding":{"text":{"value":""},"x":{"datum":0,"type":"quantitative","scale":{"domain":[0,49.8],"nice":false},"axis":{"orient":"top","values":[0,20,40],"title":"·10⁵"}},"y":{"datum":150000,"type":"quantitative","scale":{"domain":[600,150000],"nice":false},"axis":{"orient":"right","values":[50000,100000,150000],"title":null}}}}
],
"resolve":{"axis":{"x":"independent","y":"independent"}}},
{"width":314,"height":220,"title":{"text":"(d) SPQ w/ cross traffic","dx":-37},
"encoding":{"x":{"field":"t","type":"quantitative","scale":{"domain":[0,49.8],"nice":false},"axis":null},"y":{"field":"v","type":"quantitative","scale":{"domain":[600,150000],"nice":false},"axis":null}},
"layer":[
{"data":{"name":"d"},"mark":{"type":"point","size":8}},
{"data":{"values":[{"k":1}]},"mark":{"type":"text"},"encoding":{"text":{"value":""},"x":{"datum":0,"type":"quantitative","scale":{"domain":[0,49.8],"nice":false},"axis":{"grid":true,"values":[0,20,40],"title":"Measurement Time [s]"}},"y":{"datum":150000,"type":"quantitative","scale":{"domain":[600,150000],"nice":false},"axis":{"grid":true,"values":[50000,100000,150000],"labelExpr":"'' + datum.value/100000","title":"Cycle-Time [ns]"}}}},
{"data":{"values":[{"k":1}]},"mark":{"type":"text"},"encoding":{"text":{"value":""},"x":{"datum":0,"type":"quantitative","scale":{"domain":[0,49.8],"nice":false},"axis":{"orient":"top","values":[0,20,40],"title":"·10⁵"}},"y":{"datum":150000,"type":"quantitative","scale":{"domain":[600,150000],"nice":false},"axis":{"orient":"right","values":[50000,100000,150000],"title":null}}}}
],
"resolve":{"axis":{"x":"independent","y":"independent"}}},
{"width":314,"height":220,"title":{"text":["(e) TAS with GCL configuration 2 w/ cross","traffic"],"anchor":"start","dx":-80},
"encoding":{"x":{"field":"t","type":"quantitative","scale":{"domain":[0,49.8],"nice":false},"axis":null},"y":{"field":"v","type":"quantitative","scale":{"domain":[600,150000],"nice":false},"axis":null}},
"layer":[
{"data":{"name":"base"},"mark":{"type":"point","size":14}},
{"data":{"name":"e"},"mark":{"type":"point","size":6}},
{"data":{"values":[{"k":1}]},"mark":{"type":"text"},"encoding":{"text":{"value":""},"x":{"datum":0,"type":"quantitative","scale":{"domain":[0,49.8],"nice":false},"axis":{"grid":true,"values":[0,20,40],"title":"Measurement Time [s]"}},"y":{"datum":150000,"type":"quantitative","scale":{"domain":[600,150000],"nice":false},"axis":{"grid":true,"values":[50000,100000,150000],"labelExpr":"'' + datum.value/100000","title":"Cycle-Time [ns]"}}}},
{"data":{"values":[{"k":1}]},"mark":{"type":"text"},"encoding":{"text":{"value":""},"x":{"datum":0,"type":"quantitative","scale":{"domain":[0,49.8],"nice":false},"axis":{"orient":"top","values":[0,20,40],"title":"·10⁵"}},"y":{"datum":150000,"type":"quantitative","scale":{"domain":[600,150000],"nice":false},"axis":{"orient":"right","values":[50000,100000,150000],"title":null}}}}
],
"resolve":{"axis":{"x":"independent","y":"independent"}}},
{"width":314,"height":220,"title":{"text":"(f) Distributed TAS w/ cross traffic","dx":-30},
"encoding":{"x":{"field":"t","type":"quantitative","scale":{"domain":[0,49.8],"nice":false},"axis":null},"y":{"field":"v","type":"quantitative","scale":{"domain":[600,150000],"nice":false},"axis":null}},
"layer":[
{"data":{"name":"base"},"mark":{"type":"point","size":14}},
{"data":{"values":[{"k":1}]},"mark":{"type":"text"},"encoding":{"text":{"value":""},"x":{"datum":0,"type":"quantitative","scale":{"domain":[0,49.8],"nice":false},"axis":{"grid":true,"values":[0,20,40],"title":"Measurement Time [s]"}},"y":{"datum":150000,"type":"quantitative","scale":{"domain":[600,150000],"nice":false},"axis":{"grid":true,"values":[50000,100000,150000],"labelExpr":"'' + datum.value/100000","title":"Cycle-Time [ns]"}}}},
{"data":{"values":[{"k":1}]},"mark":{"type":"text"},"encoding":{"text":{"value":""},"x":{"datum":0,"type":"quantitative","scale":{"domain":[0,49.8],"nice":false},"axis":{"orient":"top","values":[0,20,40],"title":"·10⁵"}},"y":{"datum":150000,"type":"quantitative","scale":{"domain":[600,150000],"nice":false},"axis":{"orient":"right","values":[50000,100000,150000],"title":null}}}}
],
"resolve":{"axis":{"x":"independent","y":"independent"}}}
]
}
